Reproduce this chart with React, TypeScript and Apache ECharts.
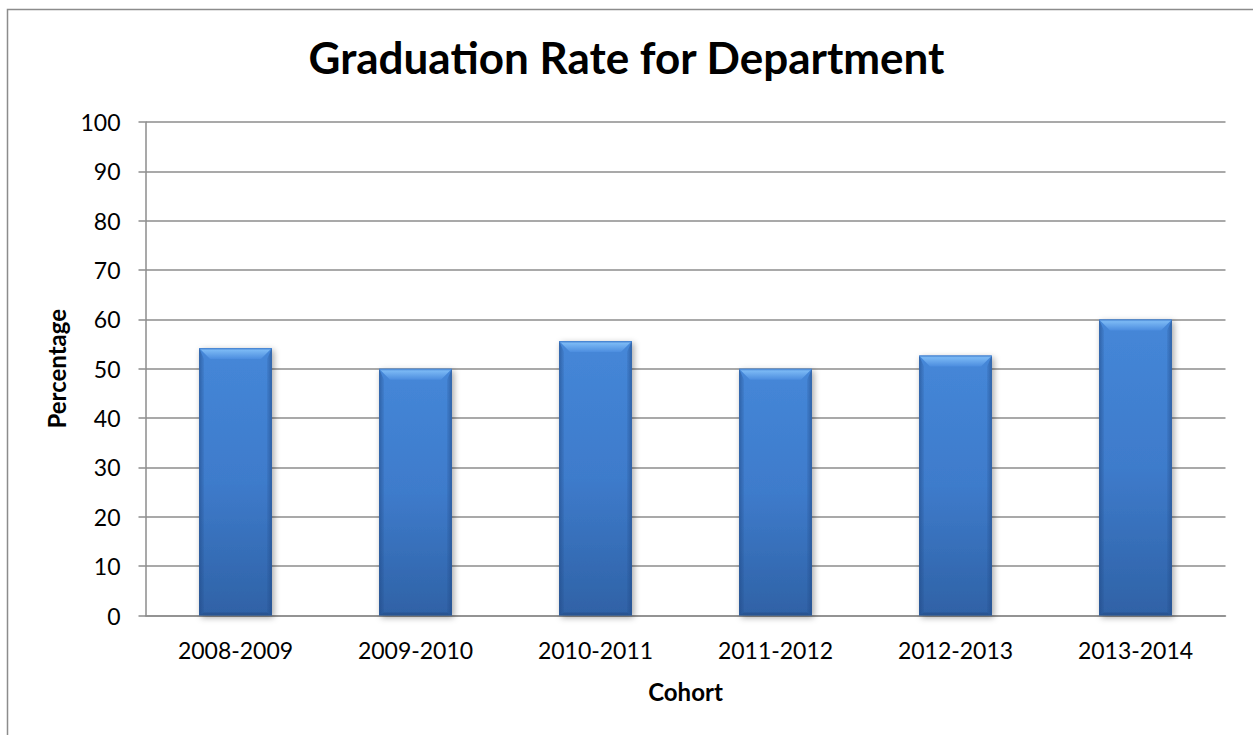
import React, { useEffect, useRef } from "react";
import * as echarts from "echarts";

const TITLE = "Graduation Rate for Department";
const Y_NAME = "Percentage";
const X_NAME = "Cohort";
const cohorts = ["2008-2009", "2009-2010", "2010-2011", "2011-2012", "2012-2013", "2013-2014"];
const graduationRates = [54.2, 50, 55.6, 50, 52.7, 60];
const Y_MIN = 0;
const Y_MAX = 100;
const Y_STEP = 10;

const FONT = "Lato, 'Open Sans', sans-serif";
const AXIS_GRAY = "#8c8c8c";

export default function App() {
  const ref = useRef<HTMLDivElement>(null);

  useEffect(() => {
    if (!ref.current) return;
    const chart = echarts.init(ref.current, null, { renderer: "svg" });

    const lin = (x0: number, y0: number, x1: number, y1: number, stops: [number, string][]) =>
      new echarts.graphic.LinearGradient(x0, y0, x1, y1, stops.map(([offset, color]) => ({ offset, color })));

    const renderItem = (params: any, api: any) => {
      const idx = api.value(0);
      const val = api.value(1);
      const top = api.coord([idx, val]);
      const base = api.coord([idx, 0]);
      const w = api.size([1, 0])[0] * 0.405;
      const l = top[0] - w / 2;
      const r = top[0] + w / 2;
      const y0 = top[1];
      const y1 = base[1];
      const b = 11;
      const e = 5;
      return {
        type: "group",
        children: [
          {
            type: "rect",
            shape: { x: l, y: y0, width: w, height: y1 - y0 },
            style: {
              fill: lin(0, 0, 0, 1, [
                [0, "#4587d8"],
                [0.5, "#3e7bcb"],
                [1, "#2f62a6"],
              ]),
              shadowBlur: 6,
              shadowOffsetX: 2,
              shadowOffsetY: 2,
              shadowColor: "rgba(0,0,0,0.35)",
            },
          },
          {
            type: "polygon",
            shape: { points: [[l, y0], [l + e, y0 + b], [l + e, y1 - 3], [l, y1]] },
            style: { fill: lin(0, 0, 1, 0, [[0, "rgba(30,70,130,0.55)"], [1, "rgba(30,70,130,0.1)"]]) },
          },
          {
            type: "polygon",
            shape: { points: [[r, y0], [r - e, y0 + b], [r - e, y1 - 3], [r, y1]] },
            style: { fill: lin(1, 0, 0, 0, [[0, "rgba(30,70,130,0.55)"], [1, "rgba(30,70,130,0.1)"]]) },
          },
          {
            type: "polygon",
            shape: { points: [[l, y0], [r, y0], [r - b, y0 + b], [l + b, y0 + b]] },
            style: {
              fill: lin(0, 0, 0, 1, [
                [0, "#3f7ccc"],
                [0.2, "#7ab8f4"],
                [1, "#4c8ddf"],
              ]),
            },
          },
          {
            type: "polygon",
            shape: { points: [[l, y1], [r, y1], [r - e, y1 - 3], [l + e, y1 - 3]] },
            style: { fill: "rgba(30,60,110,0.35)" },
          },
        ],
      };
    };

    chart.setOption({
      animation: false,
      backgroundColor: "#ffffff",
      title: {
        text: TITLE,
        left: "center",
        top: 30,
        textStyle: { fontFamily: FONT, fontWeight: "bold", fontSize: 44, color: "#000" },
      },
      graphic: [
        {
          type: "rect",
          shape: { x: 7.5, y: 9.5, width: 1280, height: 760 },
          style: { fill: "none", stroke: AXIS_GRAY, lineWidth: 1.5 },
          silent: true,
        },
      ],
      grid: { left: 145.5, right: 27.5, top: 122, bottom: 119.5, containLabel: false },
      xAxis: {
        type: "category",
        data: cohorts,
        name: X_NAME,
        nameLocation: "middle",
        nameGap: 64,
        nameTextStyle: { fontFamily: FONT, fontWeight: "bold", fontSize: 24, color: "#000" },
        axisLine: { lineStyle: { color: AXIS_GRAY, width: 1.5 } },
        axisTick: { show: false },
        axisLabel: { fontFamily: FONT, fontSize: 23, color: "#000", margin: 23 },
      },
      yAxis: {
        type: "value",
        min: Y_MIN,
        max: Y_MAX,
        interval: Y_STEP,
        name: Y_NAME,
        nameLocation: "middle",
        nameGap: 77,
        nameRotate: 90,
        nameTextStyle: { fontFamily: FONT, fontWeight: "bold", fontSize: 24, color: "#000" },
        axisLine: { show: true, lineStyle: { color: AXIS_GRAY, width: 1.5 } },
        axisTick: { show: true, length: 7, lineStyle: { color: AXIS_GRAY, width: 1.5 } },
        axisLabel: { fontFamily: FONT, fontSize: 23, color: "#000", margin: 25 },
        splitLine: { lineStyle: { color: AXIS_GRAY, width: 1.5 } },
      },
      series: [
        {
          type: "custom",
          renderItem,
          encode: { x: 0, y: 1 },
          data: graduationRates.map((v, i) => [i, v]),
        },
      ],
    });

    return () => chart.dispose();
  }, []);

  return (
    <div
      ref={ref}
      style={{ position: "fixed", left: 0, top: 0, width: 1253, height: 735, background: "#fff" }}
    />
  );
}
